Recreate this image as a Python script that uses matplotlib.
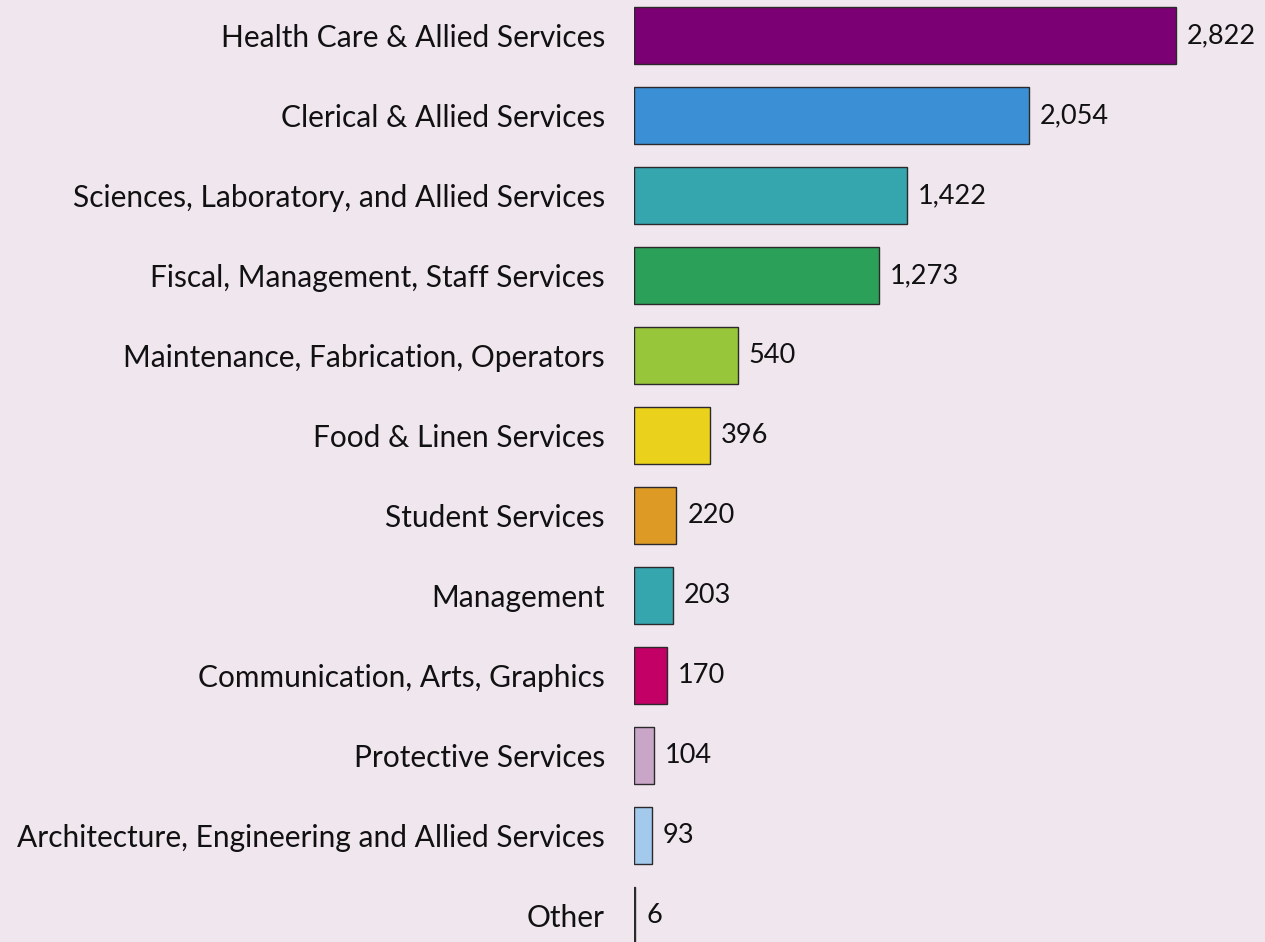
import matplotlib.pyplot as plt

# --- data ---
categories = [
    "Health Care & Allied Services",
    "Clerical & Allied Services",
    "Sciences, Laboratory, and Allied Services",
    "Fiscal, Management, Staff Services",
    "Maintenance, Fabrication, Operators",
    "Food & Linen Services",
    "Student Services",
    "Management",
    "Communication, Arts, Graphics",
    "Protective Services",
    "Architecture, Engineering and Allied Services",
    "Other",
]
values = [2822, 2054, 1422, 1273, 540, 396, 220, 203, 170, 104, 93, 6]
colors = ["#7b0073", "#3b8fd4", "#36a6ae", "#2ba058", "#98c63a", "#ead21c",
          "#dd9a24", "#36a6ae", "#c30065", "#c9a6c8", "#a3c9ec", "#222222"]

bg = "#f0e6ee"
plt.rcParams["font.family"] = ["Lato", "DejaVu Sans"]

fig = plt.figure(figsize=(12.65, 9.42), dpi=100, facecolor=bg)
# x=0 of the axis sits at pixel 634
ax = fig.add_axes([634 / 1265, 0, 1 - 634 / 1265, 1])
ax.set_facecolor(bg)

pos = list(range(len(categories)))
bars = ax.barh(pos, values, height=0.71, color=colors,
               edgecolor="#2a2a2a", linewidth=1.0)
ax.bar_label(bars, labels=[f"{v:,}" for v in values], padding=8,
             fontsize=19.5, color="#111111")

ax.set_xlim(0, 3285)
ax.set_ylim(11.33, -0.444)
ax.set_yticks(pos)
ax.set_yticklabels(categories, fontsize=21.5, color="#111111")
ax.tick_params(axis="y", length=0, pad=21)
ax.set_xticks([])
for s in ax.spines.values():
    s.set_visible(False)

fig.savefig("out.png", dpi=100, facecolor=bg)
